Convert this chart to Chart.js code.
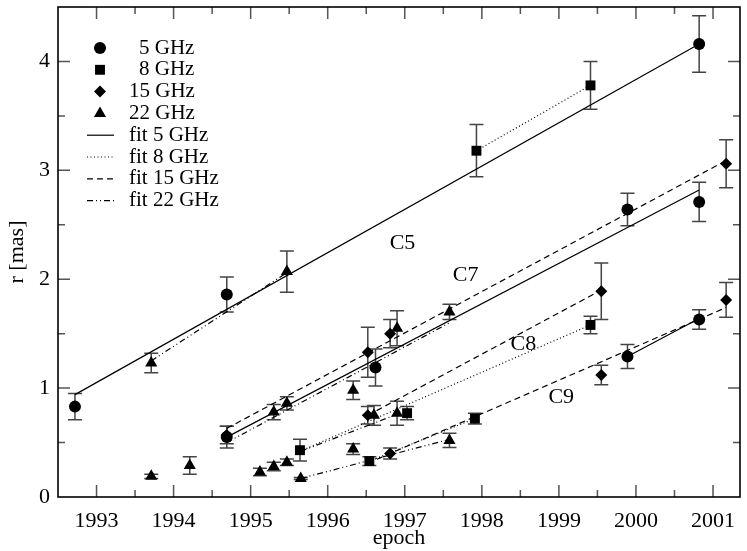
<!DOCTYPE html>
<html>
<head>
<meta charset="utf-8">
<script src="https://cdn.jsdelivr.net/npm/chart.js@4.4.1/dist/chart.umd.min.js"></script>
<style>
  html, body { margin: 0; padding: 0; background: #fff; }
</style>
</head>
<body>
<canvas id="chart" width="747" height="551"></canvas>
<script>
// component positions r [mas] vs epoch, one set of arrays per frequency
const epoch5 = [1992.72, 1994.69, 1994.69, 1996.62, 1999.89, 1999.89, 2000.82, 2000.82, 2000.82];
const r5 = [0.83, 1.86, 0.55, 1.19, 2.64, 1.29, 4.16, 2.71, 1.63];
const err5 = [0.12, 0.16, 0.10, 0.17, 0.15, 0.11, 0.26, 0.18, 0.09];

const epoch8 = [1995.64, 1996.54, 1997.03, 1997.91, 1997.93, 1999.41, 1999.41];
const r8 = [0.43, 0.33, 0.77, 0.72, 3.18, 1.58, 3.78];
const err8 = [0.10, 0.04, 0.06, 0.05, 0.24, 0.08, 0.22];

const epoch15 = [1994.69, 1996.52, 1996.52, 1996.81, 1996.81, 1999.55, 1999.55, 2001.17, 2001.17];
const r15 = [0.57, 0.75, 1.33, 1.50, 0.40, 1.89, 1.12, 3.06, 1.81];
const err15 = [0.08, 0.08, 0.23, 0.13, 0.05, 0.26, 0.09, 0.22, 0.16];

const epoch22 = [1993.71, 1993.71, 1994.21, 1995.12, 1995.30, 1995.30, 1995.47, 1995.47, 1995.47,
                 1995.65, 1996.33, 1996.33, 1996.60, 1996.90, 1996.90, 1997.58, 1997.58];
const r22 = [1.23, 0.19, 0.29, 0.23, 0.78, 0.28, 0.86, 2.07, 0.32,
             0.17, 0.98, 0.44, 0.75, 1.55, 0.77, 1.70, 0.52];
const err22 = [0.09, 0.02, 0.08, 0.035, 0.07, 0.04, 0.06, 0.19, 0.03,
               0.01, 0.085, 0.05, 0.09, 0.16, 0.11, 0.07, 0.065];

// linear fits: [epoch start, r start, epoch end, r end]
const fit5 = [[1992.72, 0.94, 2000.82, 4.16], [1994.69, 0.55, 2000.82, 2.82], [1999.89, 1.29, 2000.82, 1.64]];
const fit8 = [[1997.93, 3.18, 1999.41, 3.78], [1995.64, 0.42, 1999.41, 1.58], [1996.54, 0.33, 1997.91, 0.72]];
const fit15 = [[1994.69, 0.63, 2001.17, 3.09], [1996.52, 0.75, 1999.55, 1.90], [1996.52, 0.31, 2001.17, 1.74]];
const fit22 = [[1993.71, 1.25, 1995.47, 2.06], [1994.69, 0.50, 1997.58, 1.60],
               [1995.65, 0.42, 1996.90, 0.76], [1995.65, 0.17, 1997.58, 0.53]];

const compNames = ["C5", "C7", "C8", "C9"];
const compEpoch = [1996.97, 1997.79, 1998.54, 1999.03];
const compR = [2.33, 2.04, 1.40, 0.92];

const yearTicks = [1993, 1994, 1995, 1996, 1997, 1998, 1999, 2000, 2001];
const rTicks = [0, 1, 2, 3, 4];

const FONT = "'Liberation Serif', 'DejaVu Serif', serif";

function pts(xs, ys) {
  return xs.map((x, i) => ({ x: x, y: ys[i] }));
}

function segs(list) {
  const out = [];
  list.forEach(s => {
    out.push({ x: s[0], y: s[1] }, { x: s[2], y: s[3] }, { x: s[2], y: null });
  });
  return out;
}

const markerSet = (label, xs, ys, style, radius) => ({
  label: label,
  data: pts(xs, ys),
  pointStyle: style,
  pointRadius: radius,
  pointHoverRadius: radius,
  backgroundColor: "#000",
  borderColor: "#000",
  borderWidth: 0,
  showLine: false
});

const fitSet = (label, list, dash) => ({
  label: label,
  data: segs(list),
  showLine: true,
  spanGaps: false,
  pointRadius: 0,
  borderColor: "#000",
  borderWidth: 1.2,
  borderDash: dash,
  fill: false
});

const DASH = {
  solid: [],
  dotted: [1, 2.5],
  dashed: [6, 4],
  dashdot: [6, 3, 1, 3, 1, 3]
};

const legendItems = [
  { text: "5 GHz", style: "circle", r: 6, dx: 10 },
  { text: "8 GHz", style: "rect", r: 7, dx: 10 },
  { text: "15 GHz", style: "rectRot", r: 6, dx: 0 },
  { text: "22 GHz", style: "triangle", r: 7, dx: 0 },
  { text: "fit 5 GHz", dash: DASH.solid },
  { text: "fit 8 GHz", dash: DASH.dotted },
  { text: "fit 15 GHz", dash: DASH.dashed },
  { text: "fit 22 GHz", dash: DASH.dashdot }
];

const errorSets = [[epoch5, r5, err5], [epoch8, r8, err8], [epoch15, r15, err15], [epoch22, r22, err22]];

const extras = {
  id: "extras",
  beforeDatasetsDraw(chart) {
    const ctx = chart.ctx;
    const xs = chart.scales.x, ys = chart.scales.y;
    ctx.save();
    ctx.strokeStyle = "#444";
    ctx.lineWidth = 1.5;
    errorSets.forEach(([ex, ry, er]) => {
      ex.forEach((x, i) => {
        const px = xs.getPixelForValue(x);
        const top = ys.getPixelForValue(ry[i] + er[i]);
        const bot = ys.getPixelForValue(ry[i] - er[i]);
        ctx.beginPath();
        ctx.moveTo(px, top); ctx.lineTo(px, bot);
        ctx.moveTo(px - 7, top); ctx.lineTo(px + 7, top);
        ctx.moveTo(px - 7, bot); ctx.lineTo(px + 7, bot);
        ctx.stroke();
      });
    });
    ctx.restore();
  },
  afterDraw(chart) {
    const ctx = chart.ctx;
    const a = chart.chartArea;
    const xs = chart.scales.x, ys = chart.scales.y;
    ctx.save();

    // inward ticks on all four sides
    ctx.strokeStyle = "#555";
    ctx.lineWidth = 1.5;
    ctx.beginPath();
    for (let v = 1993; v <= 2001; v += 0.5) {
      const px = xs.getPixelForValue(v);
      const len = Number.isInteger(v) ? 12 : 7;
      ctx.moveTo(px, a.bottom); ctx.lineTo(px, a.bottom - len);
      ctx.moveTo(px, a.top); ctx.lineTo(px, a.top + len);
    }
    for (let v = 0.5; v < 4.5; v += 0.5) {
      const py = ys.getPixelForValue(v);
      const len = Number.isInteger(v) ? 12 : 7;
      ctx.moveTo(a.left, py); ctx.lineTo(a.left + len, py);
      ctx.moveTo(a.right, py); ctx.lineTo(a.right - len, py);
    }
    ctx.stroke();

    // frame
    ctx.strokeStyle = "#000";
    ctx.lineWidth = 1.6;
    ctx.strokeRect(a.left, a.top, a.right - a.left, a.bottom - a.top);

    // component labels
    ctx.fillStyle = "#000";
    ctx.font = "22px " + FONT;
    ctx.textAlign = "center";
    ctx.textBaseline = "middle";
    compNames.forEach((name, i) => {
      ctx.fillText(name, xs.getPixelForValue(compEpoch[i]), ys.getPixelForValue(compR[i]));
    });

    // legend
    ctx.font = "21px " + FONT;
    ctx.textAlign = "left";
    legendItems.forEach((item, i) => {
      const y = 48 + i * 21.8;
      if (item.style) {
        ctx.fillStyle = "#000";
        ctx.strokeStyle = "#000";
        Chart.helpers.drawPoint(ctx, { pointStyle: item.style, radius: item.r, rotation: 0, borderWidth: 0 }, 100, y);
      } else {
        ctx.strokeStyle = "#000";
        ctx.lineWidth = 1.2;
        ctx.setLineDash(item.dash);
        ctx.beginPath();
        ctx.moveTo(87, y); ctx.lineTo(114, y);
        ctx.stroke();
        ctx.setLineDash([]);
      }
      ctx.fillStyle = "#000";
      ctx.fillText(item.text, 129 + (item.dx || 0), y);
    });
    ctx.restore();
  }
};

new Chart(document.getElementById("chart"), {
  type: "scatter",
  data: {
    datasets: [
      markerSet("5 GHz", epoch5, r5, "circle", 6),
      markerSet("8 GHz", epoch8, r8, "rect", 7),
      markerSet("15 GHz", epoch15, r15, "rectRot", 6),
      markerSet("22 GHz", epoch22, r22, "triangle", 7),
      fitSet("fit 5 GHz", fit5, DASH.solid),
      fitSet("fit 8 GHz", fit8, DASH.dotted),
      fitSet("fit 15 GHz", fit15, DASH.dashed),
      fitSet("fit 22 GHz", fit22, DASH.dashdot)
    ]
  },
  options: {
    responsive: false,
    animation: false,
    devicePixelRatio: 1,
    layout: { padding: { top: 7, right: 3, left: 0, bottom: 0 } },
    plugins: { legend: { display: false }, tooltip: { enabled: false } },
    scales: {
      x: {
        type: "linear",
        min: 1992.5,
        max: 2001.35,
        afterBuildTicks: s => { s.ticks = yearTicks.map(v => ({ value: v })); },
        afterFit: s => { s.height = 54; s.paddingLeft = 0; s.paddingRight = 0; },
        grid: { display: false, drawTicks: false },
        border: { display: false },
        ticks: { color: "#000", padding: 11, maxRotation: 0, font: { family: FONT, size: 22 }, callback: v => String(v) },
        title: { display: true, text: "epoch", color: "#000", padding: { top: 0, bottom: 0 }, font: { family: FONT, size: 22 } }
      },
      y: {
        type: "linear",
        min: 0,
        max: 4.5,
        afterBuildTicks: s => { s.ticks = rTicks.map(v => ({ value: v })); },
        afterFit: s => { s.width = 58; s.paddingTop = 0; s.paddingBottom = 0; },
        grid: { display: false, drawTicks: false },
        border: { display: false },
        ticks: { color: "#000", padding: 8, font: { family: FONT, size: 22 }, callback: v => String(v) },
        title: { display: true, text: "r [mas]", color: "#000", padding: { top: 4, bottom: 0 }, font: { family: FONT, size: 22 } }
      }
    }
  },
  plugins: [extras]
});
</script>
</body>
</html>
